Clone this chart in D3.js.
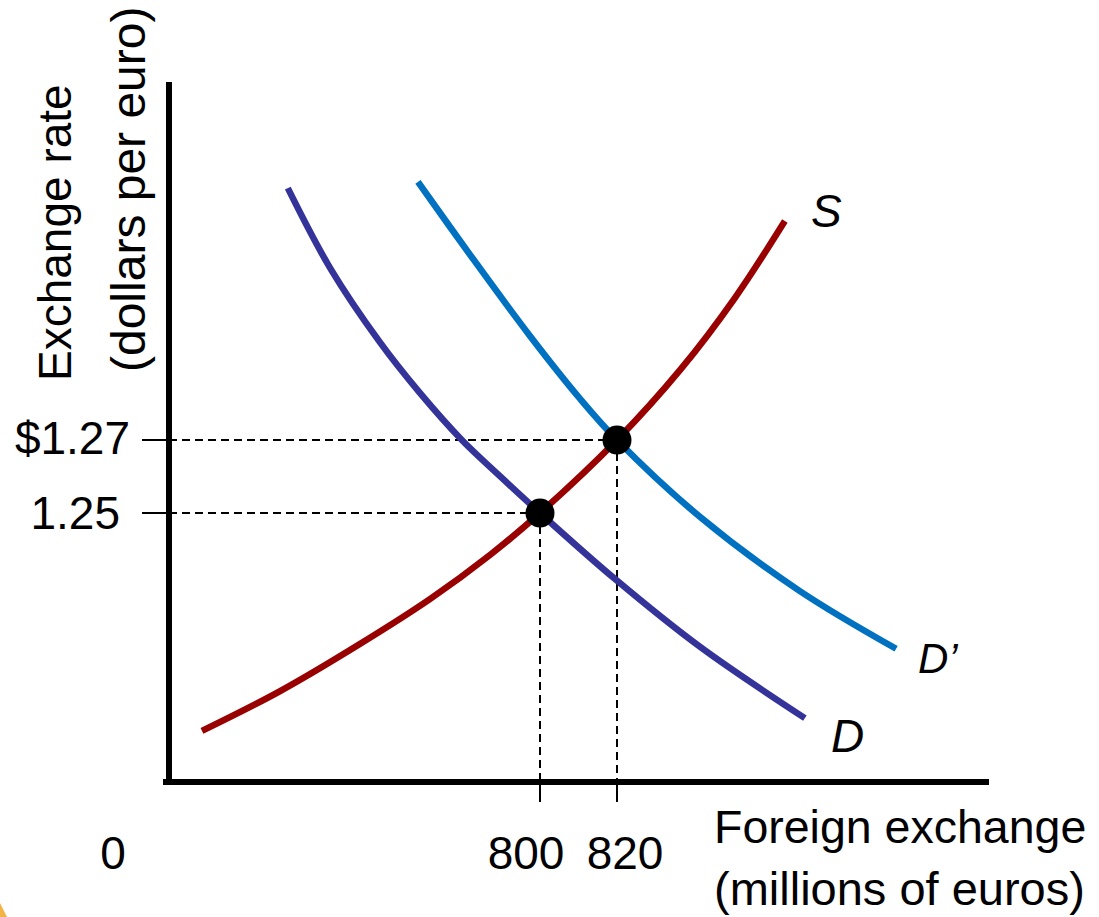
<!DOCTYPE html>
<html>
<head>
<meta charset="utf-8">
<script src="https://cdn.jsdelivr.net/npm/d3@7"></script>
<style>
  html, body { margin: 0; padding: 0; background: #fff; }
  svg { display: block; font-family: "Liberation Sans", Arial, sans-serif; }
</style>
</head>
<body>
<script>
// ---- data ----
const demandQ  = [734.5, 745.5, 758.4, 768.8, 779.7, 789.6, 800, 819.5, 841.6, 868.8];
const demandP  = [1.339, 1.3171, 1.2968, 1.2829, 1.27, 1.2601, 1.25, 1.2319, 1.2133, 1.1938];
const demand2Q = [768.3, 781.8, 797.4, 810.4, 820, 841.6, 867.5, 892.5];
const demand2P = [1.3407, 1.3208, 1.2985, 1.2813, 1.27, 1.2489, 1.2286, 1.2128];
const supplyQ  = [712.2, 732.5, 753.2, 771.4, 787, 800, 820, 836.4, 850.6, 863.6];
const supplyP  = [1.1903, 1.2012, 1.2141, 1.2264, 1.2385, 1.25, 1.27, 1.2892, 1.3089, 1.33];
const eqQ      = [800, 820];
const eqP      = [1.25, 1.27];
const xTickLabels = ["800", "820"];
const yTickLabels = ["1.25", "$1.27"];
const curveNames  = ["D", "D’", "S"];

// ---- layout ----
const W = 1099, H = 917;
const originX = 169, originY = 782, axisTop = 82, axisRight = 989;

const x = d3.scaleLinear().domain([800, 820]).range([540, 617]);
const y = d3.scaleLinear().domain([1.25, 1.27]).range([513, 440]);

const svg = d3.select("body").append("svg").attr("width", W).attr("height", H);

// orange corner fragment
svg.append("path").attr("d", "M0,903 L7,917 L0,917 Z").attr("fill", "#F2B446");

const line = d3.line().x(d => x(d[0])).y(d => y(d[1])).curve(d3.curveCatmullRom.alpha(0.5));
const zip = (a, b) => a.map((v, i) => [v, b[i]]);

// dashed guide lines
const dash = svg.append("g").attr("stroke", "#000").attr("stroke-width", 2).attr("stroke-dasharray", "8,5").attr("fill", "none");
eqQ.forEach((q, i) => {
  dash.append("line").attr("x1", originX).attr("x2", x(q)).attr("y1", y(eqP[i])).attr("y2", y(eqP[i]));
  dash.append("line").attr("x1", x(q)).attr("x2", x(q)).attr("y1", y(eqP[i])).attr("y2", originY);
});

// ticks
const ticks = svg.append("g").attr("stroke", "#000").attr("stroke-width", 2);
eqP.forEach(p => ticks.append("line").attr("x1", 142).attr("x2", originX).attr("y1", y(p)).attr("y2", y(p)));
eqQ.forEach(q => ticks.append("line").attr("x1", x(q)).attr("x2", x(q)).attr("y1", originY).attr("y2", 802));

// curves
const curves = [
  {q: demandQ, p: demandP, color: "#333399"},
  {q: demand2Q, p: demand2P, color: "#0070C0"},
  {q: supplyQ, p: supplyP, color: "#990000"}
];
curves.forEach(c => {
  svg.append("path").datum(zip(c.q, c.p)).attr("d", line)
    .attr("fill", "none").attr("stroke", c.color).attr("stroke-width", 6.5).attr("stroke-linecap", "butt");
});

// axes
svg.append("line").attr("x1", originX).attr("x2", originX).attr("y1", axisTop).attr("y2", originY + 3)
  .attr("stroke", "#000").attr("stroke-width", 6);
svg.append("line").attr("x1", originX - 6).attr("x2", axisRight).attr("y1", originY).attr("y2", originY)
  .attr("stroke", "#000").attr("stroke-width", 6);

// equilibrium points
eqQ.forEach((q, i) => svg.append("circle").attr("cx", x(q)).attr("cy", y(eqP[i])).attr("r", 14.5).attr("fill", "#000"));

// text
const fs = 46;
const txt = (s, tx, ty, opts = {}) => svg.append("text").attr("x", tx).attr("y", ty)
  .attr("font-size", opts.size || fs).attr("fill", "#000")
  .attr("text-anchor", opts.anchor || "start").attr("font-style", opts.italic ? "italic" : "normal").text(s);

// y tick labels
txt(yTickLabels[0], 120, y(eqP[0]) + 16, {anchor: "end"});
txt(yTickLabels[1], 130, y(eqP[1]) + 14, {anchor: "end"});
// x tick labels
txt(xTickLabels[0], x(eqQ[0]) - 14, 869, {anchor: "middle"});
txt(xTickLabels[1], x(eqQ[1]) + 8, 869, {anchor: "middle"});
txt("0", 113, 869, {anchor: "middle"});

// curve labels
txt(curveNames[2], 811, 227, {italic: true});
txt(curveNames[1], 918, 673, {italic: true, size: 42});
txt(curveNames[0], 831, 752, {italic: true});

// axis titles
txt("Foreign exchange", 714, 843, {size: 46.5});
txt("(millions of euros)", 714, 905, {size: 47});
svg.append("text").attr("transform", "translate(71,381) rotate(-90)").attr("font-size", fs).attr("text-anchor", "start").text("Exchange rate");
svg.append("text").attr("transform", "translate(145,372) rotate(-90)").attr("font-size", 48).attr("text-anchor", "start").text("(dollars per euro)");
</script>
</body>
</html>
